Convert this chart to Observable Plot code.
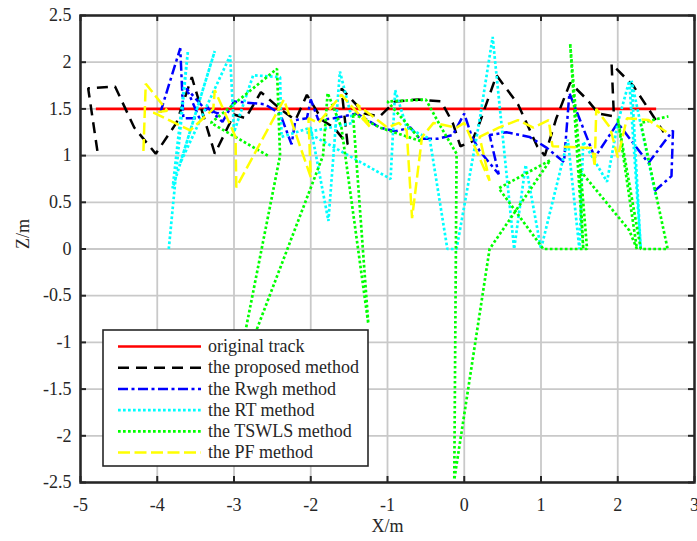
<!DOCTYPE html>
<html>
<head>
<meta charset="utf-8">
<script src="https://cdn.jsdelivr.net/npm/d3@7"></script>
<script src="https://cdn.jsdelivr.net/npm/@observablehq/plot@0.6"></script>
<style>
  html, body { margin: 0; padding: 0; background: #fff; }
</style>
</head>
<body>
<div id="chart"></div>
<script>
const xTicks = [-5, -4, -3, -2, -1, 0, 1, 2, 3];
const yTicks = [-2.5, -2, -1.5, -1, -0.5, 0, 0.5, 1, 1.5, 2, 2.5];
const legendLabels = ["original track", "the proposed method", "the Rwgh method", "the RT method", "the TSWLS method", "the PF method"];

const originalTrack = [[-4.8, 1.5], [2.5, 1.5]];

const proposed = [
  [-4.78,1.05],[-4.9,1.72],[-4.55,1.74],[-4.3,1.3],[-4.02,1.02],[-3.75,1.35],[-3.55,1.84],[-3.25,1.02],
  [-3.0,1.44],[-2.85,1.4],[-2.65,1.68],[-2.4,1.5],[-2.2,1.38],[-2.05,1.65],[-1.85,1.38],[-1.7,1.3],
  [-1.52,1.12],[-1.6,1.72],[-1.3,1.45],[-1.1,1.42],[-0.9,1.58],[-0.6,1.6],[-0.3,1.58],[-0.15,1.35],
  [-0.05,1.1],[0.1,1.15],[0.2,1.35],[0.42,1.86],[0.7,1.55],[0.95,1.1],[1.05,1.0],[1.2,1.4],
  [1.38,1.78],[1.6,1.6],[1.75,1.45],[1.95,1.42],[1.92,1.98],[2.2,1.75],[2.6,1.25]
];

const rwgh = [
  [-3.96,1.46],[-3.7,2.15],[-3.66,1.4],[-3.45,1.4],[-3.62,1.72],[-3.38,1.5],[-3.2,1.45],[-3.35,1.52],
  [-3.15,1.36],[-3.0,1.58],[-2.6,1.55],[-2.4,1.45],[-2.25,1.12],[-2.2,1.38],[-2.05,1.4],[-2.0,1.6],
  [-1.9,1.38],[-1.7,1.4],[-1.4,1.45],[-1.1,1.3],[-0.9,1.26],[-0.7,1.3],[-0.58,1.18],[-0.35,1.18],
  [-0.15,1.22],[0.0,1.45],[0.1,1.2],[0.2,1.05],[0.3,0.95],[0.45,0.8],[0.33,1.22],[0.55,1.25],
  [0.85,1.2],[1.08,1.08],[1.3,0.93],[1.37,1.67],[1.7,0.98],[2.0,1.35],[2.4,0.92],[2.72,1.27],
  [2.7,0.78],[2.45,0.6]
];

const rt = [
  [-3.85,0.0],[-3.6,2.12],[-3.8,0.65],[-3.25,2.12],[-3.7,0.92],[-3.05,2.07],[-3.0,1.25],[-2.75,1.86],
  [-2.4,1.84],[-2.38,1.2],[-2.0,1.3],[-1.77,0.3],[-1.62,1.9],[-1.45,1.35],[-2.05,1.25],[-0.96,0.75],
  [-0.9,1.7],[-0.75,1.3],[-0.45,1.18],[-0.22,0.0],[-0.1,0.0],[0.2,1.38],[0.37,2.27],[0.65,0.0],
  [0.8,0.9],[1.0,0.0],[1.35,1.17],[1.5,0.0],[1.55,1.15],[1.86,0.72],[2.0,1.35],[2.15,1.8],
  [2.3,0.0],[2.18,1.8],[2.5,0.55]
];

const tswls = [
  [-2.56,1.0],[-3.3,1.35],[-2.44,1.93],[-2.4,1.0],[-3.0,-1.5],[-1.84,1.0],[-1.78,1.67],[-1.6,1.3],
  [-1.25,-0.8],[-1.45,1.45],[-1.1,1.3],[-0.55,1.15],[-1.0,1.58],[-0.5,1.6],[-0.3,1.3],[-0.1,1.02],
  [-0.13,-2.47],[0.33,0.0],[1.12,0.95],[0.45,0.65],[1.03,0.0],[1.6,0.0],[1.38,2.2],[1.55,0.0],
  [1.5,0.85],[2.15,0.2],[2.25,0.0],[2.0,1.4],[2.3,0.0],[2.65,0.0],[2.3,1.35],[2.66,1.42]
];

const pf = [
  [-4.18,1.05],[-4.15,1.77],[-3.87,1.48],[-4.05,1.46],[-3.57,1.27],[-3.27,1.5],[-3.25,1.7],[-2.98,1.2],
  [-2.97,0.66],[-2.35,1.6],[-2.0,0.77],[-2.03,1.4],[-1.9,1.35],[-1.6,1.65],[-1.22,1.3],[-1.4,1.55],
  [-1.0,1.3],[-0.85,1.35],[-0.75,1.27],[-0.68,0.33],[-0.55,1.2],[-0.4,1.35],[-0.1,1.3],[0.0,1.35],
  [0.33,0.73],[0.2,1.2],[0.45,1.3],[0.7,1.38],[0.9,1.3],[1.1,1.38],[1.15,1.1],[1.67,1.08],
  [1.7,0.88],[1.72,1.5],[1.9,1.3],[2.0,0.98],[2.12,1.4],[2.4,1.38],[2.64,1.25]
];

const styles = [
  {data: originalTrack, stroke: "#ff0000", strokeWidth: 2.6, dash: null},
  {data: proposed, stroke: "#000000", strokeWidth: 2.5, dash: "11,7"},
  {data: rwgh, stroke: "#0000ff", strokeWidth: 2.5, dash: "10,3.5,3,3.5"},
  {data: rt, stroke: "#00ffff", strokeWidth: 2.7, dash: "2.7,2.3"},
  {data: tswls, stroke: "#00ff00", strokeWidth: 2.7, dash: "2.7,2.3"},
  {data: pf, stroke: "#ffff00", strokeWidth: 2.5, dash: "12,4.5"}
];

const W = 697, H = 541;
const mL = 80, mR = 3, mT = 15, mB = 59;
const innerW = W - mL - mR, innerH = H - mT - mB;
const tickLen = 6;
const fmt = d => String(d);
const serif = "'Liberation Serif', 'Times New Roman', serif";
const gridColor = "#c9c9c9";

const chart = Plot.plot({
  width: W,
  height: H,
  marginLeft: mL,
  marginRight: mR,
  marginTop: mT,
  marginBottom: mB,
  style: {fontFamily: serif, fontSize: "18px", color: "#262626", background: "#fff"},
  x: {domain: [-5, 3], ticks: xTicks, tickFormat: fmt, label: null},
  y: {domain: [-2.5, 2.5], ticks: yTicks, tickFormat: fmt, label: null},
  marks: [
    Plot.link(xTicks, {x1: d => d, x2: d => d, y1: -2.5, y2: 2.5, stroke: gridColor, strokeWidth: 1.8}),
    Plot.link(yTicks, {y1: d => d, y2: d => d, x1: -5, x2: 3, stroke: gridColor, strokeWidth: 1.8}),
    ...styles.map(s => Plot.line(s.data, {
      x: d => d[0], y: d => d[1],
      stroke: s.stroke, strokeWidth: s.strokeWidth,
      strokeDasharray: s.dash, strokeLinecap: "butt", strokeLinejoin: "miter", clip: true
    })),
    Plot.ruleX(xTicks, {x: d => d, y1: 2.5, y2: -2.5, insetTop: innerH - tickLen, stroke: "#262626", strokeWidth: 2}),
    Plot.ruleX(xTicks, {x: d => d, y1: 2.5, y2: -2.5, insetBottom: innerH - tickLen, stroke: "#262626", strokeWidth: 2}),
    Plot.ruleY(yTicks, {y: d => d, x1: -5, x2: 3, insetRight: innerW - tickLen, stroke: "#262626", strokeWidth: 2}),
    Plot.ruleY(yTicks, {y: d => d, x1: -5, x2: 3, insetLeft: innerW - tickLen, stroke: "#262626", strokeWidth: 2}),
    Plot.frame({stroke: "#262626", strokeWidth: 2.5}),
    Plot.axisX({ticks: xTicks, tickFormat: fmt, tickSize: 0, tickPadding: 16, fill: "#262626"}),
    Plot.axisY({ticks: yTicks, tickFormat: fmt, tickSize: 0, tickPadding: 9, fill: "#262626"}),
    Plot.text(["X/m"], {frameAnchor: "bottom", dy: 49, fill: "#262626", fontSize: 18}),
    Plot.text(["Z/m"], {frameAnchor: "left", dx: -57, rotate: -90, fill: "#262626", fontSize: 18})
  ]
});

// Legend box (drawn over the plot, as in the original)
const svg = d3.select(chart);
const lg = svg.append("g").attr("text-anchor", "start");
const lx = 103, ly = 330, lw = 265, lh = 136;
lg.append("rect").attr("x", lx).attr("y", ly).attr("width", lw).attr("height", lh)
  .attr("fill", "#fff").attr("stroke", "#262626").attr("stroke-width", 1.6);
legendLabels.forEach((label, i) => {
  const s = styles[i];
  const cy = ly + 16.5 + i * 21.2;
  lg.append("line").attr("x1", lx + 15).attr("x2", lx + 98).attr("y1", cy).attr("y2", cy)
    .attr("stroke", s.stroke).attr("stroke-width", s.strokeWidth)
    .attr("stroke-dasharray", s.dash);
  lg.append("text").attr("x", lx + 105).attr("y", cy).attr("dy", "0.32em")
    .attr("text-anchor", "start")
    .attr("fill", "#262626").attr("font-size", 18)
    .attr("font-family", serif)
    .text(label);
});

document.getElementById("chart").appendChild(chart);
</script>
</body>
</html>
